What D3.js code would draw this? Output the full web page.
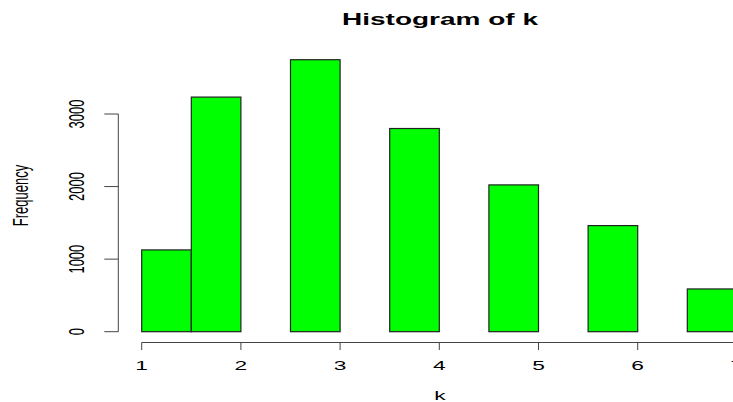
<!DOCTYPE html>
<html lang="en">
<head>
    <meta charset="UTF-8">
    <title>Histogram of k</title>
    <script src="https://d3js.org/d3.v7.min.js"></script>
    <style>
        body { margin: 0; background: #fff; }
        svg text { font-family: "Liberation Sans", Arial, sans-serif; fill: #000; }
        .bar { fill: #00ff00; stroke: #222; stroke-width: 1.2px; }
        .axis-line { stroke: #444; stroke-width: 1px; fill: none; }
    </style>
</head>
<body>
<div id="chart"></div>
<script>
    // histogram bins (left/right edges) and counts
    const binStart = [1, 1.5, 2.5, 3.5, 4.5, 5.5, 6.5];
    const binEnd = [1.5, 2, 3, 4, 5, 6, 7];
    const counts = [1127, 3233, 3748, 2800, 2023, 1462, 589];
    const xTicks = [1, 2, 3, 4, 5, 6, 7];
    const yTicks = [0, 1000, 2000, 3000];

    const width = 733, height = 402;
    // the reference picture is stretched sideways; text is widened to match
    const sx = 1.75;

    const svg = d3.select("#chart").append("svg")
        .attr("width", width)
        .attr("height", height);

    const x = d3.scaleLinear().domain([1, 7]).range([141.7, 736.9]);
    const y = d3.scaleLinear().domain([0, 3000]).range([331.7, 114]);

    // bars
    svg.selectAll(".bar")
        .data(counts)
        .enter()
        .append("rect")
        .attr("class", "bar")
        .attr("x", (d, i) => x(binStart[i]))
        .attr("y", d => y(d))
        .attr("width", (d, i) => x(binEnd[i]) - x(binStart[i]))
        .attr("height", d => y(0) - y(d));

    // x axis
    const xAxisY = 342.5;
    svg.append("line").attr("class", "axis-line")
        .attr("x1", x(1)).attr("x2", x(7))
        .attr("y1", xAxisY).attr("y2", xAxisY);
    svg.selectAll(".xtick")
        .data(xTicks)
        .enter()
        .append("line")
        .attr("class", "axis-line")
        .attr("x1", d => x(d)).attr("x2", d => x(d))
        .attr("y1", xAxisY).attr("y2", xAxisY + 7.5);
    svg.selectAll(".xlab")
        .data(xTicks)
        .enter()
        .append("text")
        .attr("transform", d => `translate(${x(d)},369.5) scale(${sx},1)`)
        .attr("text-anchor", "middle")
        .attr("font-size", 13)
        .text(d => d);

    // y axis
    const yAxisX = 118.3;
    svg.append("line").attr("class", "axis-line")
        .attr("x1", yAxisX).attr("x2", yAxisX)
        .attr("y1", y(0)).attr("y2", y(3000));
    svg.selectAll(".ytick")
        .data(yTicks)
        .enter()
        .append("line")
        .attr("class", "axis-line")
        .attr("x1", yAxisX - 14).attr("x2", yAxisX)
        .attr("y1", d => y(d)).attr("y2", d => y(d));
    svg.selectAll(".ylab")
        .data(yTicks)
        .enter()
        .append("text")
        .attr("transform", d => `translate(83.5,${y(d)}) scale(${sx},1) rotate(-90)`)
        .attr("text-anchor", "middle")
        .attr("font-size", 13)
        .text(d => d);

    // titles
    svg.append("text")
        .attr("transform", `translate(440,25) scale(${sx},1)`)
        .attr("text-anchor", "middle")
        .attr("font-size", 16)
        .attr("font-weight", "bold")
        .text("Histogram of k");

    svg.append("text")
        .attr("transform", `translate(440,399.5) scale(${sx},1)`)
        .attr("text-anchor", "middle")
        .attr("font-size", 13)
        .text("k");

    svg.append("text")
        .attr("transform", `translate(28,195.5) scale(${sx},1) rotate(-90)`)
        .attr("text-anchor", "middle")
        .attr("font-size", 13)
        .text("Frequency");
</script>
</body>
</html>
